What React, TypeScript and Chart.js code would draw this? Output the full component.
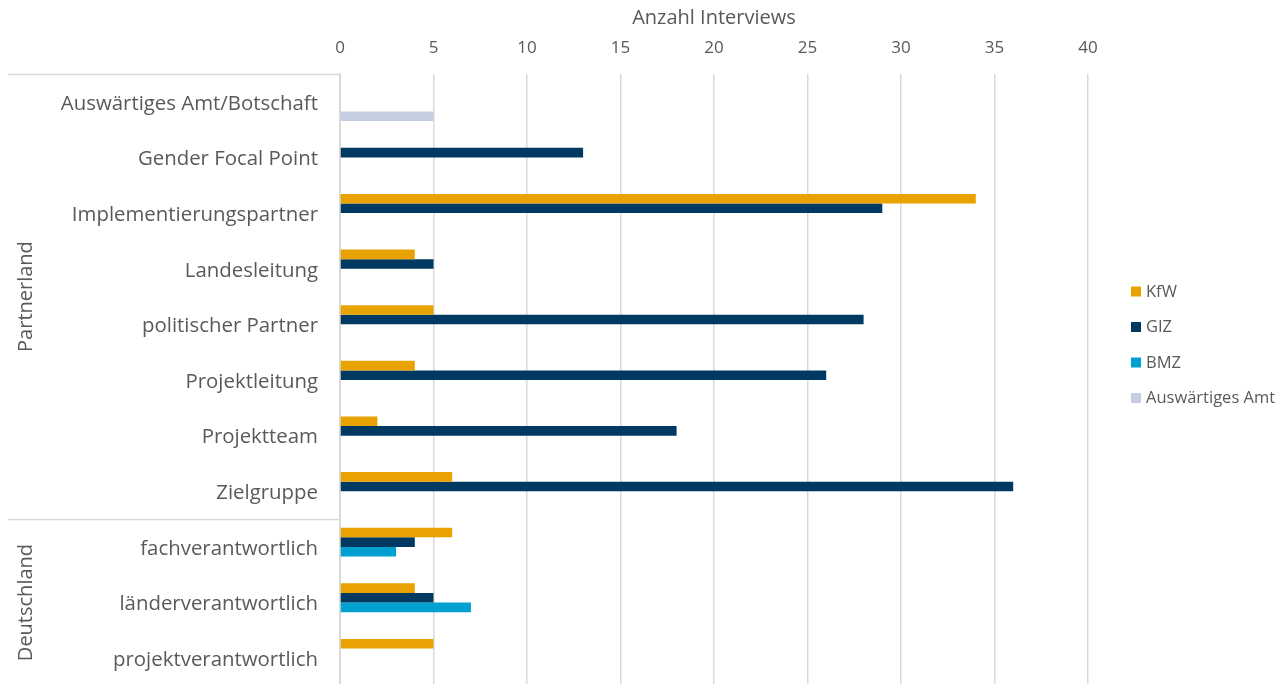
import React, { useEffect, useRef } from "react";
import { Chart, registerables } from "chart.js";

Chart.register(...registerables);

const categories = [
  "Auswärtiges Amt/Botschaft",
  "Gender Focal Point",
  "Implementierungspartner",
  "Landesleitung",
  "politischer Partner",
  "Projektleitung",
  "Projektteam",
  "Zielgruppe",
  "fachverantwortlich",
  "länderverantwortlich",
  "projektverantwortlich",
];

const seriesNames = ["KfW", "GIZ", "BMZ", "Auswärtiges Amt"];
const kfw = [null, null, 34, 4, 5, 4, 2, 6, 6, 4, 5];
const giz = [null, 13, 29, 5, 28, 26, 18, 36, 4, 5, null];
const bmz = [null, null, null, null, null, null, null, null, 3, 7, null];
const aa = [5, null, null, null, null, null, null, null, null, null, null];

const groups = [
  { label: "Partnerland", from: 0, to: 7 },
  { label: "Deutschland", from: 8, to: 10 },
];

const xTicks = [0, 5, 10, 15, 20, 25, 30, 35, 40];
const xTitle = "Anzahl Interviews";

const colors = ["#E8A202", "#003A63", "#00A0D1", "#C3CEE0"];
const textColor = "#595959";
const lineColor = "#D9D9D9";
const fontFamily = "'Open Sans', 'Noto Sans', sans-serif";

const groupPlugin = {
  id: "groupPlugin",
  afterDraw(chart: any) {
    const ctx = chart.ctx;
    const area = chart.chartArea;
    const n = categories.length;
    const band = (area.bottom - area.top) / n;
    ctx.save();
    ctx.strokeStyle = lineColor;
    ctx.lineWidth = 1.5;
    const seps = [0];
    groups.forEach((g, i) => {
      if (i > 0) seps.push(g.from);
    });
    seps.forEach((s) => {
      const yy = Math.round(area.top + s * band) + 0.5;
      ctx.beginPath();
      ctx.moveTo(8, yy);
      ctx.lineTo(area.left, yy);
      ctx.stroke();
    });
    ctx.fillStyle = textColor;
    ctx.font = `20px ${fontFamily}`;
    ctx.textAlign = "center";
    ctx.textBaseline = "middle";
    groups.forEach((g) => {
      const top = area.top + g.from * band;
      const bottom = area.top + (g.to + 1) * band;
      const cy = (top + bottom) / 2;
      ctx.save();
      ctx.translate(26, cy);
      ctx.rotate(-Math.PI / 2);
      ctx.fillText(g.label, 0, 0);
      ctx.restore();
    });
    const lx = area.right + 43;
    const ly0 = 291.5;
    const step = 35.5;
    ctx.font = `16.5px ${fontFamily}`;
    ctx.textAlign = "left";
    seriesNames.forEach((name, i) => {
      const cy = ly0 + i * step;
      ctx.fillStyle = colors[i];
      ctx.fillRect(lx, cy - 5, 10, 10);
      ctx.fillStyle = textColor;
      ctx.fillText(name, lx + 15, cy + 0.5);
    });
    ctx.restore();
  },
};

export default function App() {
  const ref = useRef<HTMLCanvasElement>(null);
  useEffect(() => {
    if (!ref.current) return;
    const chart = new Chart(ref.current, {
      type: "bar",
      data: {
        labels: categories,
        datasets: [kfw, giz, bmz, aa].map((d, i) => ({
          label: seriesNames[i],
          data: d as any,
          backgroundColor: colors[i],
          borderWidth: 0,
          categoryPercentage: 0.69,
          barPercentage: 1.0,
        })),
      },
      options: {
        indexAxis: "y",
        animation: false,
        responsive: true,
        maintainAspectRatio: false,
        layout: { padding: { left: 0, right: 199, top: 0, bottom: 10 } },
        plugins: {
          legend: { display: false },
          tooltip: { enabled: false },
        },
        scales: {
          x: {
            position: "top",
            min: 0,
            max: 40,
            afterBuildTicks: (s: any) => {
              s.ticks = xTicks.map((v) => ({ value: v }));
            },
            afterFit: (s: any) => {
              s.height = 74;
              s.paddingLeft = 0;
              s.paddingRight = 0;
            },
            ticks: {
              color: textColor,
              font: { family: fontFamily, size: 17 },
              padding: 16,
            },
            grid: { color: lineColor, lineWidth: 1.5, drawTicks: false },
            border: { display: false },
            title: {
              display: true,
              text: xTitle,
              color: textColor,
              font: { family: fontFamily, size: 20 },
              padding: { top: 6, bottom: 0 },
            },
          },
          y: {
            afterFit: (s: any) => {
              s.width = 340;
              s.paddingTop = 0;
              s.paddingBottom = 0;
            },
            ticks: {
              color: textColor,
              font: { family: fontFamily, size: 20.4 },
              padding: 22,
              labelOffset: 2,
              autoSkip: false,
            },
            grid: { display: false, drawTicks: false },
            border: { display: true, color: lineColor, width: 2 },
          },
        },
      },
      plugins: [groupPlugin],
    });
    return () => chart.destroy();
  }, []);
  return (
    <div style={{ position: "fixed", left: 0, top: 0, width: 1287, height: 696, background: "#fff" }}>
      <canvas ref={ref} style={{ display: "block" }} />
    </div>
  );
}
